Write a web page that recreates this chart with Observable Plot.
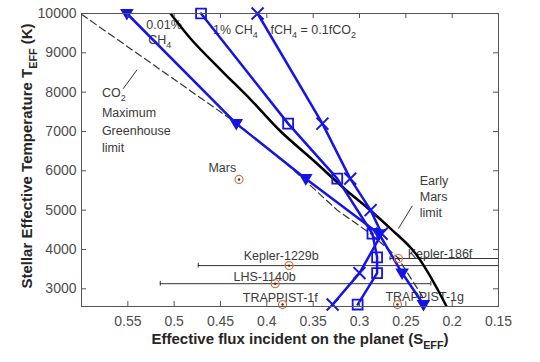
<!DOCTYPE html>
<html><head><meta charset="utf-8">
<script src="https://cdn.jsdelivr.net/npm/d3@7"></script>
<script src="https://cdn.jsdelivr.net/npm/@observablehq/plot@0.6"></script>
<style>
html,body{margin:0;padding:0;background:#fff;}
#chart{width:540px;height:362px;font-family:"Liberation Sans",Arial,sans-serif;}
</style></head><body><div id="chart"></div>
<script>
// ---- tick labels ----
const xTicks = [0.55, 0.5, 0.45, 0.4, 0.35, 0.3, 0.25, 0.2, 0.15];
const yTicks = [3000, 4000, 5000, 6000, 7000, 8000, 9000, 10000];

// ---- series: 0.01% CH4 (triangles) ----
const triT = [10000, 7200, 5800, 4400, 3400, 2600];
const triS = [0.551, 0.433, 0.358, 0.279, 0.254, 0.231];
// ---- series: 1% CH4 (squares) ----
const sqT = [10000, 7200, 5800, 4400, 3800, 3400, 2600];
const sqS = [0.471, 0.377, 0.324, 0.286, 0.281, 0.281, 0.302];
// ---- series: fCH4 = 0.1 fCO2 (crosses) ----
const crT = [10000, 7200, 5800, 5000, 4400, 3400, 2600];
const crS = [0.410, 0.340, 0.310, 0.288, 0.276, 0.300, 0.329];
// ---- Early Mars limit (black solid) ----
const earlyT = [10000, 9300, 8550, 7800, 7000, 6250, 5500, 5050, 4500, 4000, 3450, 2950, 2550];
const earlyS = [0.504, 0.480, 0.449, 0.417, 0.385, 0.349, 0.314, 0.291, 0.265, 0.243, 0.227, 0.215, 0.206];
// ---- CO2 maximum greenhouse limit (dashed) ----
const co2T = [9980, 7200, 6080, 5000, 4400, 3800, 2880, 2550];
const co2S = [0.600, 0.432, 0.374, 0.324, 0.288, 0.259, 0.234, 0.227];
// ---- planets ----
const planetNames = ["Mars", "Kepler-1229b", "Kepler-186f", "LHS-1140b", "TRAPPIST-1f", "TRAPPIST-1g"];
const planetS = [0.430, 0.376, 0.258, 0.391, 0.383, 0.259];
const planetT = [5780, 3590, 3770, 3130, 2600, 2600];
const planetSHi = [null, 0.474, 0.267, 0.515, null, null];
const planetSLo = [null, 0.12, 0.12, 0.223, null, null];
// ---- annotation texts ----
const noteText = ["0.01%", "CH_{4}", "1% CH_{4}", "fCH_{4} = 0.1fCO_{2}", "CO_{2}", "Maximum", "Greenhouse", "limit",
  "Early", "Mars", "limit", "Mars", "Kepler-1229b", "Kepler-186f", "LHS-1140b", "TRAPPIST-1f", "TRAPPIST-1g"];
const noteS = [0.530, 0.528, 0.458, 0.396, 0.578, 0.578, 0.578, 0.578,
  0.235, 0.235, 0.235, 0.463, 0.425, 0.248, 0.436, 0.426, 0.272];
const noteT = [9713, 9332, 9586, 9586, 7986, 7478, 7021, 6590,
  5745, 5339, 4933, 6074, 3845, 3896, 3312, 2754, 2779];
// ---- leader lines ----
const leadS1 = [0.555, 0.243], leadT1 = [8088, 5110];
const leadS2 = [0.540, 0.258], leadT2 = [8570, 4532];

const zip = (S, T) => S.map((s, i) => ({s, t: T[i]}));
const tri = zip(triS, triT), sq = zip(sqS, sqT), cr = zip(crS, crT);
const early = zip(earlyS, earlyT), co2 = zip(co2S, co2T);
const planets = planetNames.map((n, i) => ({name: n, s: planetS[i], t: planetT[i], hi: planetSHi[i], lo: planetSLo[i]}));
const bars = planets.filter(p => p.hi != null);
const notes = noteText.map((n, i) => ({label: n, s: noteS[i], t: noteT[i]}));
const leaders = leadS1.map((s, i) => ({s1: s, t1: leadT1[i], s2: leadS2[i], t2: leadT2[i]}));

const W = 540, H = 362, mL = 81, mR = 42, mT = 13, mB = 56;
const fw = W - mL - mR, fh = H - mT - mB;
const blue = "#1414e6";
const gray = "#555";
const triangleDown = {draw(ctx, size) {
  const r = Math.sqrt(size / Math.PI);
  ctx.moveTo(-r, -r * 0.7); ctx.lineTo(r, -r * 0.7); ctx.lineTo(0, r * 1.0); ctx.closePath();
}};

const chart = Plot.plot({
  width: W, height: H,
  marginLeft: mL, marginRight: mR, marginTop: mT, marginBottom: mB,
  style: {fontFamily: "'Liberation Sans', Arial, sans-serif", background: "#fff"},
  x: {domain: [0.6, 0.15], axis: null},
  y: {domain: [2550, 10000], axis: null},
  marks: [
    // annotations
    Plot.text(notes, {x: "s", y: "t", text: "label", textAnchor: "start", fill: "#3a3a3a", fontSize: 12.5}),
    Plot.link(leaders, {x1: "s1", y1: "t1", x2: "s2", y2: "t2", stroke: "#333", strokeWidth: 1}),
    // error bars
    Plot.ruleY(bars, {y: "t", x1: "lo", x2: "hi", stroke: "#333", strokeWidth: 1, clip: true}),
    Plot.ruleX(bars, {x: "hi", y1: d => d.t - 60, y2: d => d.t + 60, stroke: "#333", strokeWidth: 1, clip: true}),
    Plot.ruleX(bars, {x: "lo", y1: d => d.t - 60, y2: d => d.t + 60, stroke: "#333", strokeWidth: 1, clip: true}),
    // limits
    Plot.line(co2, {x: "s", y: "t", stroke: "#333", strokeWidth: 1.2, strokeDasharray: "7,4", clip: true}),
    Plot.line(early, {x: "s", y: "t", stroke: "#000", strokeWidth: 2.5, curve: "monotone-y", clip: true}),
    // blue series
    Plot.line(tri, {x: "s", y: "t", stroke: blue, strokeWidth: 2.5}),
    Plot.line(sq, {x: "s", y: "t", stroke: blue, strokeWidth: 2.5}),
    Plot.line(cr, {x: "s", y: "t", stroke: blue, strokeWidth: 2.5}),
    Plot.dot(tri, {x: "s", y: "t", symbol: triangleDown, r: 5.5, fill: blue, stroke: blue, strokeWidth: 1.5}),
    Plot.dot(sq, {x: "s", y: "t", symbol: "square", r: 5.6, fill: "none", stroke: blue, strokeWidth: 1.8}),
    Plot.dot(cr, {x: "s", y: "t", symbol: "times", r: 5.5, stroke: blue, strokeWidth: 2}),
    // planets
    Plot.dot(planets, {x: "s", y: "t", r: 4, fill: "none", stroke: "#e0703a", strokeWidth: 1.2}),
    Plot.dot(planets, {x: "s", y: "t", r: 1.2, fill: "#333"}),
    // inward ticks
    Plot.ruleX(xTicks, {x: d => d, insetTop: fh - 5, stroke: gray}),
    Plot.ruleX(xTicks, {x: d => d, insetBottom: fh - 5, stroke: gray}),
    Plot.ruleY(yTicks, {y: d => d, insetRight: fw - 5, stroke: gray}),
    Plot.ruleY(yTicks, {y: d => d, insetLeft: fw - 5, stroke: gray}),
    Plot.frame({stroke: gray}),
    // axes labels
    Plot.axisX({ticks: xTicks, tickSize: 0, tickPadding: 10, fontSize: 14, color: "#4d4d4d", label: null, tickFormat: d => String(d)}),
    Plot.axisY({ticks: yTicks, tickSize: 0, tickPadding: 5, fontSize: 14, color: "#4d4d4d", label: null, tickFormat: d => String(d)}),
    Plot.text(["Stellar Effective Temperature T_{EFF} (K)"], {text: d => d, frameAnchor: "left", dx: -54, dy: -4, rotate: -90, textAnchor: "middle", lineAnchor: "middle", fontWeight: "bold", fontSize: 15, fill: "#262626"}),
    Plot.text(["Effective flux incident on the planet (S_{EFF})"], {text: d => d, frameAnchor: "bottom", dy: 33, dx: 10, textAnchor: "middle", lineAnchor: "middle", fontWeight: "bold", fontSize: 15, fill: "#262626"})
  ]
});
document.getElementById("chart").appendChild(chart);

// subscripts
chart.querySelectorAll("text").forEach(t => {
  const s = t.textContent;
  if (!s.includes("_{")) return;
  const fs = parseFloat(getComputedStyle(t).fontSize) || 12;
  while (t.firstChild) t.removeChild(t.firstChild);
  s.split(/_\{([^}]*)\}/).forEach((p, i) => {
    if (!p) return;
    if (i % 2 === 0) t.appendChild(document.createTextNode(p));
    else {
      const ts = document.createElementNS("http://www.w3.org/2000/svg", "tspan");
      ts.setAttribute("style", `baseline-shift:${-(fs * 0.3).toFixed(1)}px;font-size:${(fs * 0.72).toFixed(1)}px`);
      ts.textContent = p;
      t.appendChild(ts);
    }
  });
});
</script></body></html>
